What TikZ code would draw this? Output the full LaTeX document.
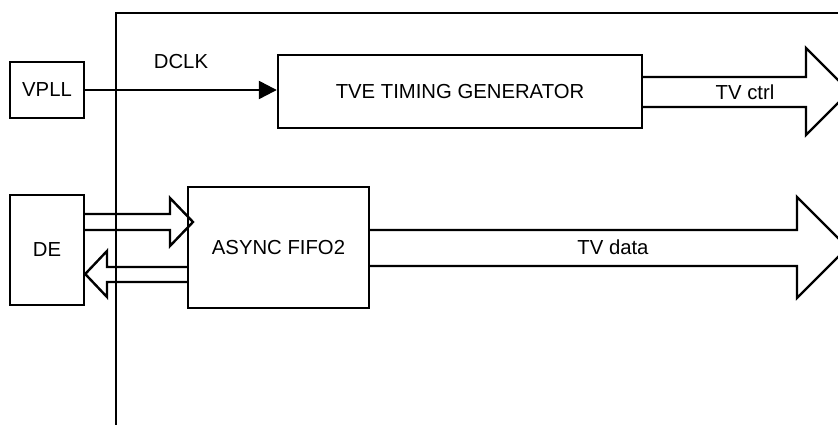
\documentclass[tikz,border=0pt]{standalone}
\usepackage{fontspec}
\setmainfont{Liberation Sans}
\usetikzlibrary{arrows.meta,calc}
\begin{document}
\begin{tikzpicture}[x=1pt,y=-1pt,
  every node/.style={font=\fontsize{20.3}{24}\selectfont},
  blk/.style={draw,line width=2.4pt,rectangle,inner sep=0pt},
  wire/.style={line width=2.4pt},
  fat/.style={line width=2.4pt,line join=miter},
  lbl/.style={inner sep=0pt}]
\useasboundingbox (0,0) rectangle (838,425);
\clip (0,0) rectangle (838,425);
% frame
\coordinate (ftl) at (116,13);
\coordinate (ftr) at (850,13);
\coordinate (fbl) at (116,440);
\draw[wire] (ftr) -- (ftl) -- (fbl);
% blocks
\node[blk,minimum width=74pt,minimum height=56pt] (vpll) at (47,90) {VPLL};
\node[blk,minimum width=74pt,minimum height=110pt] (de) at (47,250) {DE};
\node[blk,minimum width=364pt,minimum height=73pt] (tve) at (460,91.5) {TVE TIMING GENERATOR};
\node[blk,minimum width=181pt,minimum height=121pt] (fifo) at (278.5,247.5) {ASYNC FIFO2};
% DCLK
\draw[wire,-{Triangle[length=18pt,width=18pt]}] (vpll.east) -- (vpll.east -| tve.west);
\node[lbl] (dclk) at (181,62) {DCLK};
% DE -> FIFO
\draw[fat] (de.east |- 0,214) -- (170,214) -- (170,198) -- (193,222) -- (170,246) -- (170,230) -- (de.east |- 0,230);
% FIFO -> DE
\draw[fat] (fifo.west |- 0,267) -- (107,267) -- (107,251) -- (de.east |- 0,274) -- (107,297) -- (107,282) -- (fifo.west |- 0,282);
% TV ctrl
\draw[fat] (tve.east |- 0,77) -- (806,77) -- (806,48) -- (849.5,91.5) -- (806,135) -- (806,107) -- (tve.east |- 0,107);
\node[lbl] (tvctrl) at (745,92) {TV ctrl};
% TV data
\draw[fat] (fifo.east |- 0,230) -- (797,230) -- (797,197) -- (847.5,247.5) -- (797,298) -- (797,266) -- (fifo.east |- 0,266);
\node[lbl] (tvdata) at (613,247) {TV data};
\end{tikzpicture}
\end{document}
